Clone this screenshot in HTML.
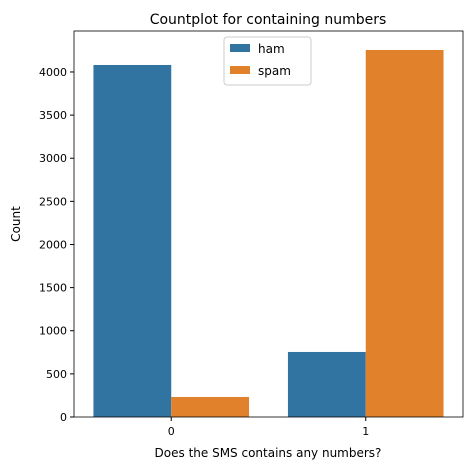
<!DOCTYPE html>
<html><head><meta charset="utf-8"><style>
body{margin:0;background:#fff;}
svg text{font-family:"DejaVu Sans","Liberation Sans",sans-serif;fill:#000;}
</style></head><body>
<svg id="chart" width="471" height="470" viewBox="0 0 471 470" xmlns="http://www.w3.org/2000/svg">
<text x="268" y="24" font-size="14" text-anchor="middle">Countplot for containing numbers</text>
<g id="bars"></g>
<g id="axes"></g>
<text x="268" y="457" font-size="12" text-anchor="middle">Does the SMS contains any numbers?</text>
<text transform="translate(20,224) rotate(-90)" font-size="12" text-anchor="middle">Count</text>
<g>
<rect x="224" y="37" width="87" height="48" fill="#fff" stroke="#ccc" rx="3"/>
<rect x="230" y="44" width="20" height="8" fill="#3274a1"/>
<text x="258" y="53" font-size="12">ham</text>
<rect x="230" y="66" width="20" height="8" fill="#e1812c"/>
<text x="258" y="75" font-size="12">spam</text>
</g>
</svg>
<script>
const categories=["0","1"];
const hamValues=[4081,754];
const spamValues=[232,4255];
const yTicks=[0,500,1000,1500,2000,2500,3000,3500,4000];
const L=74,R=463,T=31,B=417,ymax=4475;
const xs=v=>L+(v+0.5)/2*(R-L);
const ys=v=>B-v/ymax*(B-T);
const ns="http://www.w3.org/2000/svg";
const bars=document.getElementById('bars'),axes=document.getElementById('axes');
function mk(tag,attrs,parent){const e=document.createElementNS(ns,tag);for(const k in attrs)e.setAttribute(k,attrs[k]);parent.appendChild(e);return e;}
const bw=(xs(1)-xs(0))*0.4;
categories.forEach((c,i)=>{
  const h=mk('rect',{x:xs(i)-bw,y:ys(hamValues[i]),width:bw,height:B-ys(hamValues[i]),fill:'#3274a1'},bars);
  
  
  const s=mk('rect',{x:xs(i),y:ys(spamValues[i]),width:bw,height:B-ys(spamValues[i]),fill:'#e1812c'},bars);
  
  
  mk('line',{x1:xs(i),x2:xs(i),y1:B,y2:B+4,stroke:'#000'},axes);
  const t=mk('text',{x:xs(i),y:B+18,'font-size':11,'text-anchor':'middle'},axes);
  t.textContent=c;
  
  
});
yTicks.forEach(v=>{
  mk('line',{x1:L-4,x2:L,y1:ys(v),y2:ys(v),stroke:'#000'},axes);
  const t=mk('text',{x:L-7,y:ys(v)+4,'font-size':11,'text-anchor':'end'},axes);
  t.textContent=v;
  
  
});
const f=mk('rect',{x:L,y:T,width:R-L,height:B-T,fill:'none',stroke:'#000','stroke-width':0.8},axes);


</script>
</body></html>
